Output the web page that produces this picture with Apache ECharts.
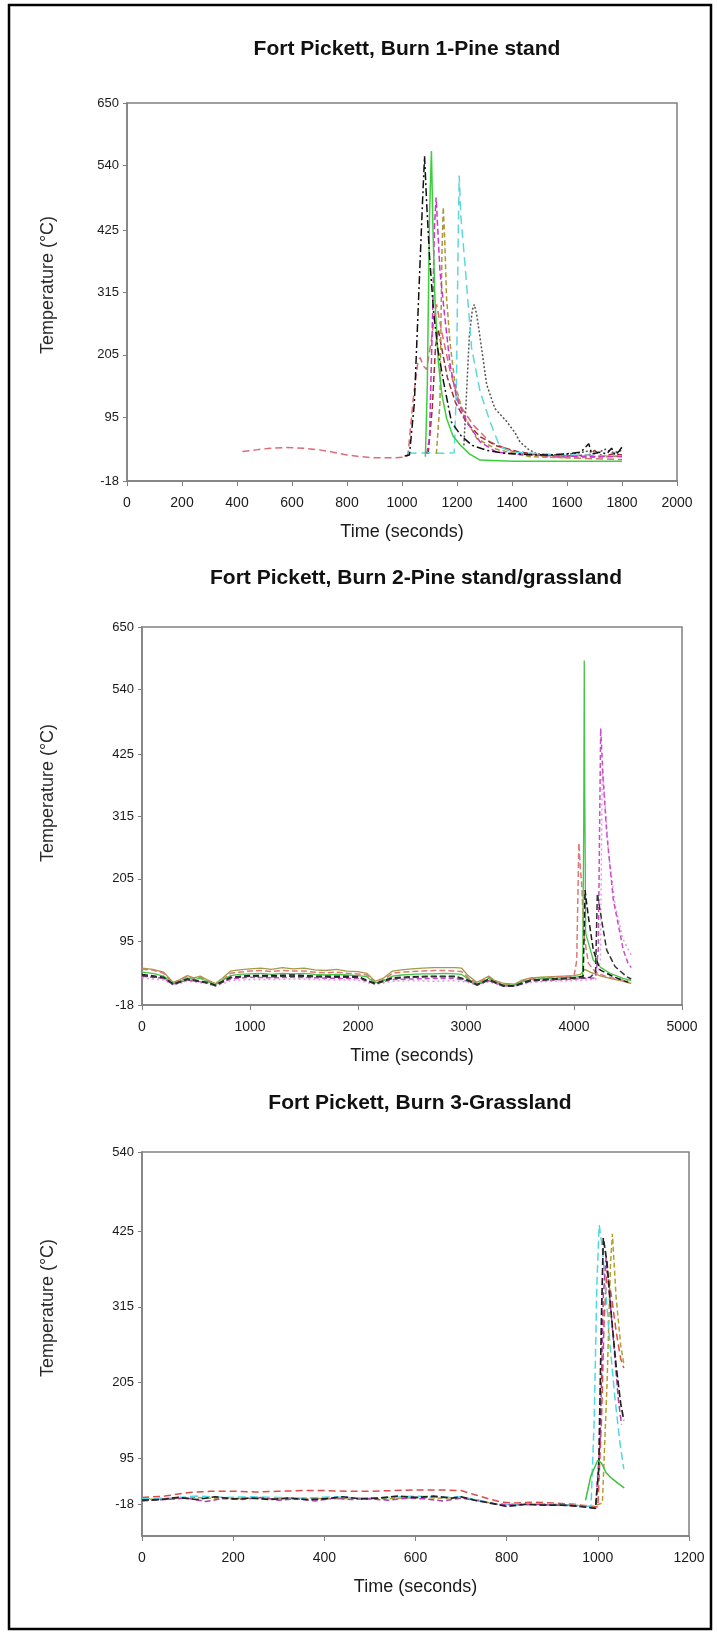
<!DOCTYPE html>
<html>
<head>
<meta charset="utf-8">
<title>Fort Pickett burns</title>
<script src="https://cdn.jsdelivr.net/npm/echarts@6/dist/echarts.min.js"></script>
<style>
  html, body { margin: 0; padding: 0; background: #fff; }
  #chart { width: 717px; height: 1633px; }
</style>
</head>
<body>
<div id="chart"></div>
<script>
// titles and axis texts
const titles = ['Fort Pickett, Burn 1-Pine stand', 'Fort Pickett, Burn 2-Pine stand/grassland', 'Fort Pickett, Burn 3-Grassland']
const xTitle = 'Time (seconds)'
const yTitle = 'Temperature (°C)'

// y tick labels (burn 1 and 2 share them)
const yTicks12 = [-18, 95, 205, 315, 425, 540, 650]
// burn 3: the "-18" label sits a little above the axis bottom in the original
const yTickPos3 = [28, 95, 205, 315, 425, 540]
const yTickText3 = ['-18', '95', '205', '315', '425', '540']

// burn 1 - pine stand  [seconds, °C]
const b1Salmon = [[420,34],[470,37],[520,40],[580,41],[640,40],[700,37],[750,33],[800,28],[850,25],[900,23],[960,23],[1015,24],[1022,30],[1041,128],[1058,193],[1066,200],[1078,185],[1090,179],[1108,235],[1120,282],[1126,294],[1135,270],[1144,247],[1175,176],[1211,116],[1259,81],[1320,51],[1405,34],[1526,25],[1650,22],[1800,20]]
const b1Black = [[1010,26],[1027,28],[1045,120],[1060,300],[1075,480],[1082,556],[1090,470],[1100,380],[1115,280],[1130,216],[1150,160],[1180,86],[1215,62],[1255,45],[1310,36],[1372,31],[1450,29],[1530,28],[1600,30],[1650,33],[1679,48],[1690,30],[1720,33],[1745,30],[1762,40],[1775,28],[1790,35],[1804,45]]
const b1Green = [[1085,25],[1092,150],[1100,450],[1107,565],[1113,420],[1120,300],[1132,193],[1145,135],[1162,93],[1185,62],[1211,46],[1245,30],[1284,19],[1400,17],[1500,17],[1600,17],[1700,17],[1800,17]]
const b1Cyan = [[1020,32],[1060,31],[1100,32],[1150,31],[1190,32],[1198,150],[1204,400],[1208,522],[1214,450],[1229,365],[1253,217],[1284,140],[1320,87],[1356,42],[1405,33],[1500,30],[1600,28],[1700,27],[1800,26]]
const b1Magenta = [[1090,30],[1100,60],[1110,250],[1118,430],[1124,483],[1138,353],[1156,270],[1175,187],[1199,128],[1235,87],[1284,51],[1344,33],[1450,28],[1600,26],[1800,25]]
const b1Olive = [[1125,30],[1138,120],[1145,380],[1150,466],[1156,400],[1162,306],[1175,224],[1193,153],[1224,99],[1272,57],[1344,38],[1465,25],[1600,23],[1700,24],[1800,26]]
const b1Gray = [[1225,45],[1233,120],[1245,240],[1256,285],[1263,294],[1272,275],[1284,235],[1308,152],[1338,110],[1381,87],[1410,68],[1429,51],[1460,38],[1490,30],[1550,28],[1620,30],[1680,35],[1700,30],[1740,38],[1770,32],[1800,36]]
const b1Maroon = [[1095,30],[1110,110],[1122,220],[1132,250],[1145,215],[1165,165],[1195,120],[1235,85],[1285,60],[1345,44],[1420,34],[1500,28],[1600,26],[1680,28],[1700,36],[1730,26],[1770,30],[1800,28]]

// burn 2 - pine stand / grassland
const b2Olive = [[0,47],[100,45],[200,40],[290,22],[350,27],[420,34],[480,30],[540,33],[600,27],[680,20],[750,30],[820,42],[900,44],[1000,46],[1100,47],[1200,45],[1300,48],[1400,46],[1500,47],[1600,44],[1700,43],[1800,45],[1900,42],[2000,41],[2080,38],[2160,24],[2240,30],[2320,42],[2400,44],[2500,46],[2600,47],[2700,48],[2800,48],[2900,48],[2960,47],[3020,34],[3100,22],[3160,28],[3210,33],[3260,26],[3350,20],[3450,19],[3520,26],[3600,30],[3700,31],[3800,32],[3900,33],[4000,34],[4060,36],[4100,45],[4150,40],[4250,33],[4350,28],[4450,24],[4530,20]]
const b2Salmon = [[0,45],[100,44],[200,38],[290,21],[350,26],[420,33],[480,28],[540,31],[600,25],[680,19],[750,27],[820,38],[900,40],[1000,42],[1100,43],[1200,41],[1300,43],[1400,42],[1500,42],[1600,40],[1700,39],[1800,40],[1900,38],[2000,37],[2080,35],[2160,22],[2240,27],[2320,38],[2400,40],[2500,41],[2600,42],[2700,43],[2800,43],[2900,42],[2960,41],[3020,30],[3100,20],[3160,26],[3210,31],[3260,24],[3350,18],[3450,18],[3520,24],[3600,29],[3700,30],[3800,31],[3900,32],[4000,33],[4025,60],[4045,268],[4060,220],[4071,197],[4090,109],[4133,56],[4200,40],[4300,32],[4400,28],[4500,25]]
const b2Green = [[0,40],[100,38],[200,33],[290,20],[350,24],[420,30],[480,27],[540,29],[600,24],[680,18],[750,26],[820,34],[900,36],[1000,37],[1100,38],[1200,36],[1300,38],[1400,37],[1500,38],[1600,36],[1700,35],[1800,36],[1900,35],[2000,34],[2080,32],[2160,21],[2240,25],[2320,33],[2400,35],[2500,36],[2600,37],[2700,37],[2800,38],[2900,37],[2960,36],[3020,28],[3100,19],[3160,24],[3210,29],[3260,23],[3350,17],[3450,17],[3520,23],[3600,27],[3700,28],[3800,29],[3900,30],[4000,31],[4080,33],[4090,300],[4095,591],[4100,350],[4108,109],[4179,61],[4250,48],[4333,38],[4457,29],[4530,25]]
const b2Black = [[0,36],[200,31],[290,19],[420,28],[600,22],[680,17],[820,31],[1000,34],[1200,34],[1400,35],[1600,33],[1800,33],[2000,32],[2160,20],[2320,30],[2500,32],[2700,33],[2900,33],[3020,26],[3100,18],[3210,27],[3350,16],[3450,16],[3600,26],[3800,28],[4000,30],[4085,33],[4095,120],[4102,185],[4133,138],[4179,79],[4241,44],[4364,32],[4503,22]]
const b2Black2 = [[0,34],[200,30],[290,18],[420,27],[600,21],[680,16],[820,30],[1000,33],[1200,32],[1400,33],[1600,32],[1800,31],[2000,31],[2160,19],[2320,29],[2500,31],[2700,32],[2900,32],[3020,25],[3100,17],[3210,26],[3350,15],[3450,15],[3600,25],[3800,27],[4000,29],[4150,31],[4200,40],[4216,179],[4256,132],[4303,79],[4380,50],[4488,32],[4530,28]]
const b2Magenta = [[0,33],[200,29],[290,19],[420,26],[600,22],[680,17],[820,28],[1000,31],[1200,30],[1400,31],[1600,30],[1800,29],[2000,29],[2160,20],[2320,27],[2500,28],[2700,29],[2900,29],[3020,24],[3100,18],[3210,25],[3350,16],[3450,16],[3600,24],[3800,26],[4000,28],[4200,30],[4225,80],[4247,471],[4270,380],[4303,286],[4364,168],[4457,79],[4500,56],[4530,48]]
const b2Pink = [[0,30],[100,28],[200,26],[290,17],[420,24],[600,20],[680,15],[820,25],[1000,27],[1200,27],[1400,28],[1600,27],[1800,26],[2000,26],[2160,18],[2320,24],[2500,25],[2700,24],[2900,25],[3020,22],[3100,17],[3210,23],[3350,15],[3450,15],[3600,22],[3800,24],[4000,25],[4200,27],[4245,60],[4262,400],[4280,360],[4320,250],[4380,160],[4450,100],[4530,70]]

// burn 3 - grassland
const b3Red = [[0,38],[50,40],[100,45],[150,47],[200,47],[250,46],[300,47],[350,48],[400,48],[450,47],[500,47],[550,48],[600,49],[650,49],[700,48],[730,42],[760,36],[790,31],[820,30],[860,31],[900,30],[950,28],[990,25],[1000,24],[1008,150],[1014,300],[1020,368],[1030,330],[1040,280],[1050,240],[1057,226]]
const b3Black = [[0,34],[40,35],[80,38],[120,35],[160,39],[200,36],[240,37],[280,35],[320,37],[360,35],[400,36],[440,39],[480,36],[520,37],[560,40],[600,38],[640,40],[680,37],[700,39],[730,34],[770,29],[800,25],[840,28],[880,27],[920,27],[960,25],[995,22],[1002,80],[1008,300],[1012,415],[1020,380],[1030,300],[1040,230],[1050,175],[1057,150]]
const b3Magenta = [[0,33],[50,35],[100,37],[140,32],[180,37],[220,35],[260,38],[300,34],[340,36],[380,33],[420,37],[460,35],[500,36],[540,34],[580,37],[620,36],[660,33],[700,37],[740,33],[780,28],[820,27],[860,28],[900,27],[950,26],[995,23],[1005,120],[1012,330],[1018,386],[1026,330],[1035,260],[1045,180],[1052,144]]
const b3Cyan = [[0,36],[60,37],[120,40],[180,38],[240,39],[300,38],[360,37],[420,39],[480,37],[540,38],[600,40],[660,38],[700,39],[740,34],[780,28],[820,28],[880,29],[940,27],[985,25],[992,150],[998,350],[1003,434],[1010,400],[1018,330],[1028,250],[1038,180],[1048,120],[1057,79]]
const b3Olive = [[0,35],[60,36],[120,38],[180,36],[240,37],[300,36],[360,37],[420,36],[480,37],[540,36],[600,38],[660,37],[700,38],[740,33],[780,28],[820,28],[880,28],[940,27],[990,25],[1010,30],[1020,200],[1028,380],[1032,421],[1040,330],[1050,260],[1057,232]]
const b3Green = [[973,34],[985,70],[1000,92],[1008,88],[1018,74],[1030,66],[1045,58],[1058,52]]

const font = "'Liberation Sans', Arial, sans-serif"
const axisGray = '#808080'

function line(name, data, color, dash, idx, width) {
  return {
    name: name,
    type: 'line',
    data: data,
    xAxisIndex: idx,
    yAxisIndex: idx,
    symbol: 'none',
    animation: false,
    lineStyle: { color: color, width: width || 1.5, type: dash }
  }
}

function xAxis(idx, max, step) {
  return {
    gridIndex: idx,
    type: 'value',
    min: 0,
    max: max,
    interval: step,
    name: xTitle,
    nameLocation: 'middle',
    nameGap: 42,
    nameTextStyle: { fontFamily: font, fontSize: 18, color: '#1a1a1a' },
    axisLine: { show: true, onZero: false, lineStyle: { color: axisGray, width: 1.5 } },
    axisTick: { show: true, inside: false, length: 5, lineStyle: { color: axisGray } },
    axisLabel: { margin: 15, fontFamily: font, fontSize: 14, color: '#1a1a1a', formatter: v => String(v) },
    splitLine: { show: false }
  }
}

function yAxis(idx, min, max, tickPos, fmt, gap, shift) {
  return {
    gridIndex: idx,
    type: 'value',
    min: min,
    max: max,
    name: yTitle,
    nameLocation: 'middle',
    nameRotate: 90,
    nameGap: gap,
    nameTextStyle: { fontFamily: font, fontSize: 18, color: '#2a2a2a', padding: [0, 0, 0, shift] },
    axisLine: { show: true, onZero: false, lineStyle: { color: axisGray, width: 1.5 } },
    axisTick: { show: true, inside: false, length: 4, customValues: tickPos, lineStyle: { color: axisGray } },
    axisLabel: { margin: 8, fontFamily: font, fontSize: 13, color: '#1a1a1a', customValues: tickPos, formatter: fmt },
    splitLine: { show: false }
  }
}

function gridBox(left, top, width, height) {
  return { left: left, top: top, width: width, height: height, show: true, borderColor: axisGray, borderWidth: 1.5, backgroundColor: '#fff' }
}

function titleAt(i, center, top) {
  return {
    text: titles[i],
    left: center,
    top: top,
    textAlign: 'center',
    textStyle: { fontFamily: font, fontSize: 21, fontWeight: 'bold', color: '#111' }
  }
}

const chart = echarts.init(document.getElementById('chart'))
const option = {
  backgroundColor: '#fff',
  animation: false,
  title: [titleAt(0, 402, 34), titleAt(1, 411, 563), titleAt(2, 415, 1088)],
  graphic: [{
    type: 'rect',
    shape: { x: 9, y: 5, width: 702, height: 1624 },
    style: { fill: 'none', stroke: '#000', lineWidth: 2.5 },
    silent: true
  }],
  grid: [
    gridBox(127, 103, 550, 378),
    gridBox(142, 627, 540, 378),
    gridBox(142, 1152, 547, 384)
  ],
  xAxis: [xAxis(0, 2000, 200), xAxis(1, 5000, 1000), xAxis(2, 1200, 200)],
  yAxis: [
    yAxis(0, -18, 650, yTicks12, v => String(v), 70, 14),
    yAxis(1, -18, 650, yTicks12, v => String(v), 85, 46),
    yAxis(2, -18, 540, yTickPos3, v => yTickText3[yTickPos3.indexOf(v)], 85, 72)
  ],
  series: [
    line('salmon', b1Salmon, '#e06a78', [7, 4], 0),
    line('maroon', b1Maroon, '#9a3030', [6, 3], 0),
    line('gray', b1Gray, '#555', [2, 2], 0),
    line('cyan', b1Cyan, '#5cd8dc', [9, 5], 0),
    line('olive', b1Olive, '#a89a30', [5, 3], 0),
    line('magenta', b1Magenta, '#cc33cc', [6, 3], 0),
    line('green', b1Green, '#3ccf3c', 'solid', 0),
    line('black', b1Black, '#111', [8, 3, 2, 3], 0),

    line('olive', b2Olive, '#a39a45', 'solid', 1, 1.3),
    line('pink', b2Pink, '#e39be3', [2, 3], 1),
    line('magenta', b2Magenta, '#c94fc9', [5, 3], 1),
    line('salmon', b2Salmon, '#e07878', [6, 3], 1),
    line('green', b2Green, '#45c445', 'solid', 1, 1.3),
    line('black', b2Black, '#1a1a1a', [6, 3], 1),
    line('black2', b2Black2, '#333', [6, 3], 1),

    line('red', b3Red, '#e04a4a', [7, 4], 2),
    line('olive', b3Olive, '#b0a030', [5, 3], 2),
    line('cyan', b3Cyan, '#50d8e0', [8, 4], 2),
    line('magenta', b3Magenta, '#b040b0', [6, 3], 2),
    line('black', b3Black, '#222', [7, 3], 2, 1.7),
    line('green', b3Green, '#40c040', 'solid', 2)
  ]
}
chart.setOption(option)
</script>
</body>
</html>
